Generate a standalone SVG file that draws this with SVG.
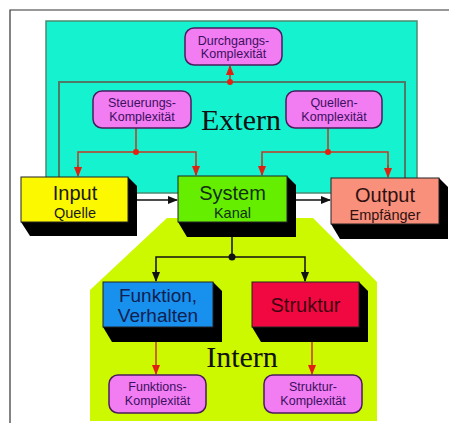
<svg xmlns="http://www.w3.org/2000/svg" width="449" height="423" viewBox="0 0 449 423">
  <defs>
    <style>
      .pink { fill: #f27cf2; stroke: #4a1c5e; stroke-width: 1.5; }
      .pinktxt { font-family: "Liberation Sans", Arial, sans-serif; font-size: 12.5px; fill: #3a1060; text-anchor: middle; }
      .big { font-family: "Liberation Sans", Arial, sans-serif; font-size: 20px; text-anchor: middle; }
      .small { font-family: "Liberation Sans", Arial, sans-serif; font-size: 14.5px; text-anchor: middle; }
      .label { font-family: "Liberation Serif", "Times New Roman", serif; font-size: 30px; fill: #111; text-anchor: middle; }
      .face { stroke: #222; stroke-width: 1; }
      .red { fill: none; stroke: #c03a20; stroke-width: 1.5; }
      .loop { fill: none; stroke: #4f7a68; stroke-width: 2; }
      .blk { fill: none; stroke: #111; stroke-width: 1.5; }
      .dotr { fill: #e82010; }
    </style>
    <marker id="ar" viewBox="0 0 10 10" refX="9" refY="5" markerWidth="7" markerHeight="7" orient="auto">
      <path d="M0,1 L10,5 L0,9 z" fill="#e02010"/>
    </marker>
    <marker id="ab" viewBox="0 0 10 10" refX="9" refY="5" markerWidth="7" markerHeight="7" orient="auto">
      <path d="M0,1 L10,5 L0,9 z" fill="#111"/>
    </marker>
  </defs>

  <rect width="449" height="423" fill="#ffffff"/>
  <!-- outer frame -->
  <path d="M10,423 L10,10 L449,10" fill="none" stroke="#333" stroke-width="1.2"/>

  <!-- external zone -->
  <rect id="extern-zone" x="46" y="21" width="371" height="172" fill="#14f2d0" stroke="#4a8a72" stroke-width="1.5"/>
  <!-- internal zone -->
  <polygon id="intern-zone" points="167,218 313,218 377,282 377,421 90,421 90,290" fill="#ccf800"/>

  <text class="label" x="241" y="130">Extern</text>
  <text class="label" x="242" y="367">Intern</text>

  <!-- connectors -->
  <g id="connectors">
    <path class="loop" d="M59,177 L59,82 L405,82 L405,178"/>
    <line class="red" x1="230" y1="82" x2="230" y2="66" marker-end="url(#ar)"/>
    <circle class="dotr" cx="230" cy="82" r="3"/>

    <path class="red" d="M136,128 L136,152"/>
    <path class="red" d="M78,175 L78,152 L196,152 L196,175"/>
    <line class="red" x1="78" y1="165" x2="78" y2="176" marker-end="url(#ar)"/>
    <line class="red" x1="196" y1="165" x2="196" y2="175" marker-end="url(#ar)"/>
    <circle class="dotr" cx="136" cy="152" r="3"/>

    <path class="red" d="M328,128 L328,152"/>
    <path class="red" d="M262,175 L262,152 L388,152 L388,176"/>
    <line class="red" x1="262" y1="165" x2="262" y2="175" marker-end="url(#ar)"/>
    <line class="red" x1="388" y1="165" x2="388" y2="177" marker-end="url(#ar)"/>
    <circle class="dotr" cx="328" cy="152" r="3"/>

    <line class="blk" x1="137" y1="200" x2="177" y2="200" marker-end="url(#ab)"/>
    <line class="blk" x1="296" y1="200" x2="330" y2="200" marker-end="url(#ab)"/>

    <path class="blk" d="M232,237 L232,257"/>
    <path class="blk" d="M156,280 L156,257 L305,257 L305,280" />
    <line class="blk" x1="156" y1="270" x2="156" y2="281" marker-end="url(#ab)"/>
    <line class="blk" x1="305" y1="270" x2="305" y2="281" marker-end="url(#ab)"/>
    <circle cx="232" cy="257" r="3.5" fill="#111"/>

    <line class="red" x1="156" y1="342" x2="156" y2="374" marker-end="url(#ar)"/>
    <line class="red" x1="312" y1="342" x2="312" y2="374" marker-end="url(#ar)"/>
  </g>

  <!-- complexity boxes -->
  <g id="durchgang">
    <rect class="pink" x="185" y="28" width="97" height="37" rx="9"/>
    <text class="pinktxt" x="233.5" y="45">Durchgangs-</text>
    <text class="pinktxt" x="233.5" y="58">Komplexität</text>
  </g>
  <g id="steuerung">
    <rect class="pink" x="93" y="91" width="98" height="37" rx="9"/>
    <text class="pinktxt" x="142" y="107">Steuerungs-</text>
    <text class="pinktxt" x="142" y="121">Komplexität</text>
  </g>
  <g id="quellen">
    <rect class="pink" x="286" y="91" width="96" height="37" rx="9"/>
    <text class="pinktxt" x="334" y="107">Quellen-</text>
    <text class="pinktxt" x="334" y="121">Komplexität</text>
  </g>
  <g id="funktions-k">
    <rect class="pink" x="109" y="375" width="97" height="38" rx="9"/>
    <text class="pinktxt" x="157.5" y="391">Funktions-</text>
    <text class="pinktxt" x="157.5" y="405">Komplexität</text>
  </g>
  <g id="struktur-k">
    <rect class="pink" x="264" y="375" width="98" height="38" rx="9"/>
    <text class="pinktxt" x="313" y="391">Struktur-</text>
    <text class="pinktxt" x="313" y="405">Komplexität</text>
  </g>

  <!-- 3D blocks -->
  <g id="input">
    <polygon points="21,222 128,177 137,186 137,236 30,236" fill="#000"/>
    <rect class="face" x="21" y="177" width="107" height="45" fill="#fcf800"/>
    <text class="big" x="75" y="200" fill="#1a1a1a">Input</text>
    <text class="small" x="75" y="218" fill="#1a1a1a">Quelle</text>
  </g>
  <g id="system">
    <polygon points="178,222 287,176 296,185 296,237 187,237" fill="#000"/>
    <rect class="face" x="178" y="176" width="109" height="46" fill="#66ee00"/>
    <text class="big" x="232.5" y="200" fill="#103010">System</text>
    <text class="small" x="232.5" y="218" fill="#103010">Kanal</text>
  </g>
  <g id="output">
    <polygon points="331,224 439,178 448,187 448,239 340,239" fill="#000"/>
    <rect class="face" x="331" y="178" width="108" height="46" fill="#f8907c"/>
    <text class="big" x="385" y="202" fill="#301010">Output</text>
    <text class="small" x="385" y="220" fill="#301010">Empfänger</text>
  </g>
  <g id="funktion">
    <polygon points="103,327 213,282 222,291 222,342 112,342" fill="#000"/>
    <rect class="face" x="103" y="282" width="110" height="45" fill="#1890ee"/>
    <text class="big" x="158" y="302" fill="#102050" style="font-size:19px">Funktion,</text>
    <text class="big" x="158" y="322" fill="#102050" style="font-size:19px">Verhalten</text>
  </g>
  <g id="struktur">
    <polygon points="252,327 359,282 368,291 368,342 261,342" fill="#000"/>
    <rect class="face" x="252" y="282" width="107" height="45" fill="#f20840"/>
    <text class="big" x="305.5" y="312" fill="#400010">Struktur</text>
  </g>
</svg>
